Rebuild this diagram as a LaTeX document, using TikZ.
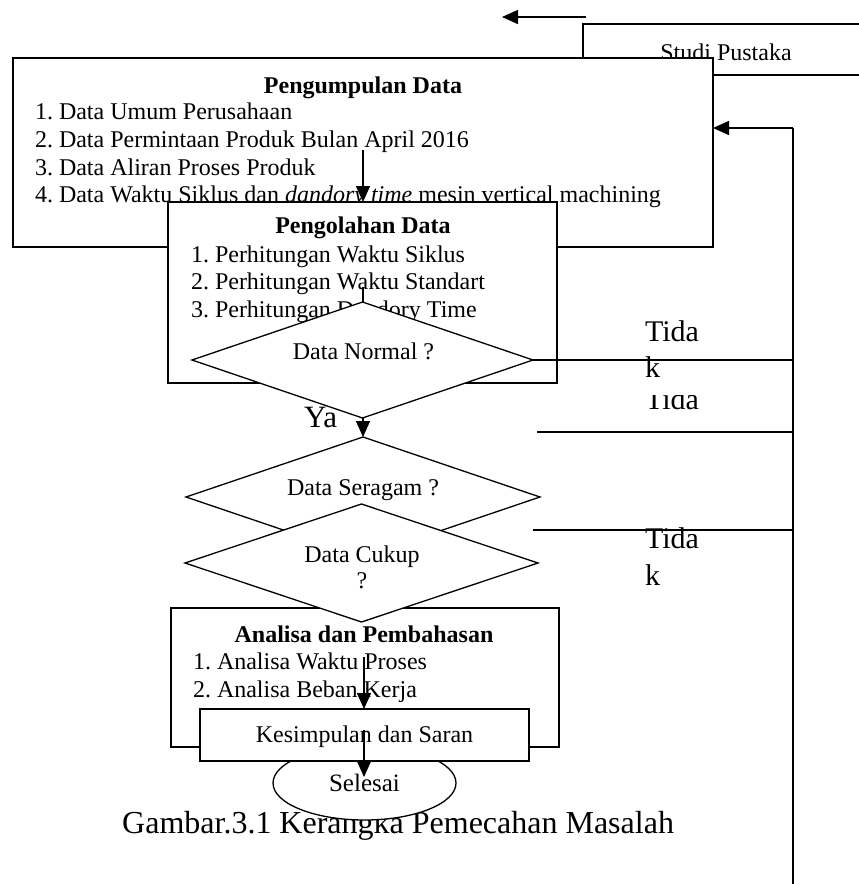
\documentclass[tikz,border=0pt]{standalone}
\usepackage{fontspec}
\setmainfont{Liberation Serif}
\usetikzlibrary{arrows.meta,shapes.geometric}
\frenchspacing
\begin{document}
\frenchspacing
\begin{tikzpicture}[x=1pt,y=-1pt,
  box/.style={draw, fill=white, line width=1.3pt, rectangle, inner sep=0pt, outer sep=0pt},
  dia/.style={draw, fill=white, line width=1.3pt, diamond, inner sep=0pt, outer sep=0pt},
  oval/.style={draw, fill=white, line width=1.3pt, ellipse, inner sep=0pt, outer sep=0pt},
  txt/.style={inner sep=0pt, outer sep=0pt, font=\fontsize{24}{28}\selectfont},
  ttl/.style={inner sep=0pt, outer sep=0pt, font=\fontsize{24}{28}\selectfont\bfseries},
  big/.style={inner sep=0pt, outer sep=0pt, font=\fontsize{30}{36}\selectfont},
  ln/.style={line width=1.3pt},
  arr/.style={line width=1.5pt, -{Triangle[length=16pt,width=14pt]}}
]
\useasboundingbox (0,0) rectangle (859,884);
\fill[white] (0,0) rectangle (859,884);
\clip (0,0) rectangle (859,884);

% top arrow
\coordinate (ta) at (586,17);
\coordinate (tb) at (502,17);
\draw[arr] (ta) -- (tb);

% Studi Pustaka
\node[box, minimum width=300pt, minimum height=51pt] (studi) at (733,49.5) {};
\node[txt, anchor=base] (studit) at (726,60) {Studi Pustaka};

% Pengumpulan Data
\node[box, minimum width=700pt, minimum height=189pt] (pump) at (363,152.5) {};
\node[ttl, anchor=base] (pumpt) at (363,93) {Pengumpulan Data};
\node[txt, anchor=base west] (p1) at (35,119) {1. Data Umum Perusahaan};
\node[txt, anchor=base west] (p2) at (35,147) {2. Data Permintaan Produk Bulan April 2016};
\node[txt, anchor=base west] (p3) at (35,175) {3. Data Aliran Proses Produk};
\node[txt, anchor=base west] (p4) at (35,202) {4. Data Waktu Siklus dan \textit{dandory time} mesin vertical machining};

% feedback line
\coordinate (fb) at (793,128);
\coordinate (fbend) at (793,890);
\draw[ln] (fb) -- (fbend);
\draw[arr] (fb) -- (fb -| pump.east);

% arrow 1
\coordinate (a1) at (363,150);
\coordinate (pengtop) at (363,202);
\draw[arr] (a1) -- (pengtop);

% Pengolahan Data
\node[box, minimum width=389pt, minimum height=181pt] (peng) at (362.5,292.5) {};
\node[ttl, anchor=base] (pengt) at (363,233) {Pengolahan Data};
\node[txt, anchor=base west] (q1) at (191,262) {1. Perhitungan Waktu Siklus};
\node[txt, anchor=base west] (q2) at (191,289) {2. Perhitungan Waktu Standart};
\node[txt, anchor=base west] (q3) at (191,317) {3. Perhitungan Dandory Time};

% arrow 2
\coordinate (a2) at (363,287);
\coordinate (seragamtop) at (363,437);
\draw[arr] (a2) -- (seragamtop);

% Data Normal
\node[dia, minimum width=341pt, minimum height=116pt] (normal) at (362.5,360) {};
\node[txt, anchor=base] (normalt) at (363.5,359) {Data Normal ?};
\draw[ln] (normal.east) -- (normal.east -| fb);
\node[big, anchor=base west] (t1a) at (645,341) {Tida};
\node[big, anchor=base west] (t1b) at (645,377) {k};
\begin{scope}
  \clip (600,395) rectangle (740,440);
  \node[big, anchor=base west] (t2a) at (645,409) {Tida};
\end{scope}
\coordinate (l2) at (537,432);
\draw[ln] (l2) -- (l2 -| fb);
\node[inner sep=0pt, anchor=base west, font=\fontsize{31}{36}\selectfont] (ya) at (304,427) {Ya};

% Data Seragam
\node[dia, minimum width=354pt, minimum height=120pt] (seragam) at (363,497) {};
\node[txt, anchor=base] (seragamt) at (363,495) {Data Seragam ?};

% Analisa dan Pembahasan
\node[box, minimum width=388pt, minimum height=139pt] (anal) at (365,677.5) {};
\node[ttl, anchor=base] (analt) at (364,642) {Analisa dan Pembahasan};
\node[txt, anchor=base west] (r1) at (193,669) {1. Analisa Waktu Proses};
\node[txt, anchor=base west] (r2) at (193,697) {2. Analisa Beban Kerja};

% Data Cukup
\node[dia, minimum width=353pt, minimum height=118pt] (cukup) at (361.5,563) {};
\node[txt, anchor=base] (cukupt) at (362,562) {Data Cukup};
\node[txt, anchor=base] (cukupq) at (362,588) {?};
\coordinate (l3) at (533,530);
\draw[ln] (l3) -- (l3 -| fb);
\node[big, anchor=base west] (t3a) at (645,548) {Tida};
\node[big, anchor=base west] (t3b) at (645,585) {k};

% arrow 3
\coordinate (a3) at (364,657);
\coordinate (kestop) at (364,709);
\draw[arr] (a3) -- (kestop);

% caption
\node[inner sep=0pt, anchor=base west, font=\fontsize{32}{38}\selectfont] (cap) at (122,833) {Gambar.3.1 Kerangka Pemecahan Masalah};

% Selesai
\node[oval, minimum width=183pt, minimum height=74pt] (selesai) at (364.5,783) {};
\node[inner sep=0pt, anchor=base, font=\fontsize{25}{30}\selectfont] (selesait) at (364.5,791) {Selesai};

% Kesimpulan
\node[box, minimum width=329pt, minimum height=52pt] (kes) at (364.5,735) {};
\node[txt, anchor=base] (kest) at (364.5,742) {Kesimpulan dan Saran};

% arrow 4
\coordinate (a4) at (364,730);
\coordinate (a4e) at (364,777);
\draw[arr] (a4) -- (a4e);
\end{tikzpicture}
\end{document}
